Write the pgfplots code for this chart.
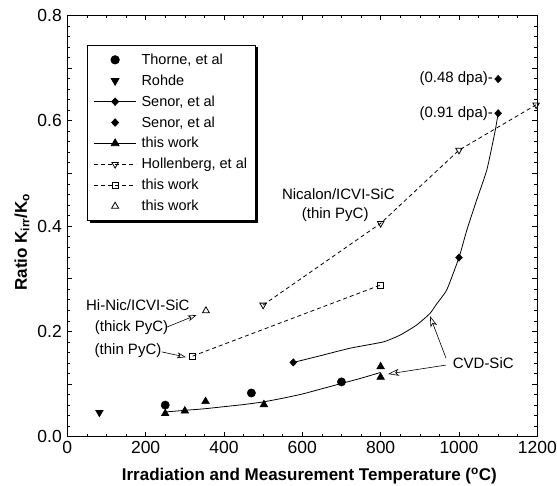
\documentclass[border=0pt]{standalone}
\usepackage{pgfplots}
\pgfplotsset{compat=1.18}
\usepackage{fontspec}
\setmainfont{Liberation Sans}
\usetikzlibrary{arrows.meta}
\newcommand{\fs}{\fontsize{15}{18}\selectfont}
\newcommand{\fl}{\fontsize{14.5}{17}\selectfont}
\begin{document}
\begin{tikzpicture}
\useasboundingbox (-67.3pt,-49.3pt) rectangle (489.7pt,436.7pt);
\begin{axis}[
  scale only axis, width=470pt, height=421.4pt,
  xmin=0, xmax=1200, ymin=0, ymax=0.8,
  clip mode=individual,
  xtick={0,200,400,600,800,1000,1200}, minor x tick num=3,
  ytick={0,0.2,0.4,0.6,0.8}, minor y tick num=9,
  extra y ticks={0.1,0.3,0.5,0.7}, extra y tick labels={},
  tick align=inside, major tick length=5pt, minor tick length=3pt,
  axis line style={line width=0.9pt},
  every tick/.style={black, line width=0.6pt},
  /pgf/number format/assume math mode=true,
  ticklabel style={font=\fontsize{17.5}{20}\selectfont},
  xticklabel style={yshift=-1pt, /pgf/number format/1000 sep={}},
  yticklabel style={xshift=-2pt, /pgf/number format/fixed, /pgf/number format/fixed zerofill, /pgf/number format/precision=1},
  xlabel={Irradiation and Measurement Temperature (\textsuperscript{o}C)},
  ylabel={Ratio K\textsubscript{irr}/K\textsubscript{o}},
  label style={font=\fontsize{17}{20}\selectfont\bfseries},
  xlabel style={at={(axis description cs:0.515,-0.093)}, anchor=center},
  ylabel style={at={(axis description cs:-0.0964,0.462)}, anchor=center},
  legend image code/.code={\draw[mark repeat=2,mark phase=2,#1] plot coordinates {(0pt,0pt)(21pt,0pt)(42pt,0pt)};},
  legend style={at={(axis description cs:0.0426,0.9295)}, anchor=north west,
    draw=black, line width=0.8pt, fill=white, font=\fl,
    inner xsep=6pt, inner ysep=4pt, column sep=3pt, row sep=0pt,
    nodes={inner xsep=2pt, inner ysep=2pt, minimum height=20.9pt, text depth=0.15em}},
  legend cell align=left,
]
% legend shadow
\fill[black] (axis description cs:0.0479,0.5060) rectangle (axis description cs:0.4058,0.9236);
% Thorne
\addplot[forget plot, only marks, mark=*, mark size=4.2pt] coordinates {(250,0.060)(470,0.083)(700,0.104)};
% Rohde
\addplot[forget plot, only marks, mark=triangle*, mark size=4.5pt, mark options={rotate=180}] coordinates {(82,0.046)};
% Senor curve
\addplot[forget plot, line width=0.8pt, mark=none, smooth, tension=0.3] coordinates {(577,0.141)(637,0.152)(722,0.168)(807,0.180)(850,0.193)(892,0.212)(926,0.234)(943,0.252)(969,0.279)(1000,0.340)(1020,0.392)(1045,0.449)(1071,0.506)(1092,0.579)(1100,0.614)};
% Senor diamonds
\addplot[forget plot, only marks, mark=diamond*, mark size=3.7pt, mark options={xscale=1.25}] coordinates {(577,0.141)(1000,0.340)(1100,0.614)(1100,0.679)};
% this work fit
\addplot[forget plot, line width=0.8pt, mark=none, smooth, tension=0.3] coordinates {(250,0.047)(300,0.050)(350,0.053)(400,0.057)(450,0.061)(500,0.066)(550,0.073)(600,0.081)(650,0.091)(700,0.101)(750,0.111)(800,0.122)};
% this work triangles
\addplot[forget plot, only marks, mark=triangle*, mark size=4.5pt] coordinates {(250,0.044)(300,0.049)(353,0.067)(502,0.061)(800,0.133)(800,0.113)};
% Hollenberg
\addplot[forget plot, line width=0.8pt, dash pattern=on 4pt off 3pt, mark=triangle, mark size=3.8pt, mark options={solid, rotate=180, fill=white}] coordinates {(500,0.250)(800,0.405)(1000,0.544)(1197,0.630)};
% this work squares
\addplot[forget plot, line width=0.8pt, dash pattern=on 4pt off 3pt, mark=square, mark size=3pt, mark options={solid, fill=white}] coordinates {(320,0.153)(800,0.288)};
% open triangle
\addplot[forget plot, only marks, mark=triangle, mark size=4pt, mark options={line width=0.8pt}] coordinates {(354,0.239)};

% legend
\addlegendimage{only marks, mark=*, mark size=4.2pt, black}
\addlegendentry{Thorne, et al}
\addlegendimage{only marks, mark=triangle*, mark size=4.5pt, mark options={rotate=180}, black}
\addlegendentry{Rohde}
\addlegendimage{line width=0.8pt, mark=diamond*, mark size=3.7pt, mark options={xscale=1.25}, black}
\addlegendentry{Senor, et al}
\addlegendimage{only marks, mark=diamond*, mark size=3.7pt, mark options={xscale=1.25}, black}
\addlegendentry{Senor, et al}
\addlegendimage{line width=0.8pt, mark=triangle*, mark size=4.5pt, black}
\addlegendentry{this work}
\addlegendimage{line width=0.8pt, dash pattern=on 4pt off 3pt, mark=triangle, mark size=3.8pt, mark options={solid, rotate=180, fill=white}, black}
\addlegendentry{Hollenberg, et al}
\addlegendimage{line width=0.8pt, dash pattern=on 4pt off 3pt, mark=square, mark size=3pt, mark options={solid, fill=white}, black}
\addlegendentry{this work}
\addlegendimage{only marks, line width=0.8pt, mark=triangle, mark size=4pt, black}
\addlegendentry{this work}

% annotations
\node[font=\fs] at (axis cs:180,0.250) {Hi-Nic/ICVI-SiC};
\node[font=\fs] at (axis cs:164,0.208) {(thick PyC)};
\node[font=\fs] at (axis cs:155,0.163) {(thin PyC)};
\draw[line width=0.6pt, -{Stealth[open, length=9pt, width=6pt, inset=2.5pt]}] (axis cs:254,0.208) -- (axis cs:330,0.231);
\draw[line width=0.6pt, -{Stealth[open, length=9pt, width=6pt, inset=2.5pt]}] (axis cs:241,0.161) -- (axis cs:303,0.151);
\node[font=\fs] at (axis cs:692,0.461) {Nicalon/ICVI-SiC};
\node[font=\fs] at (axis cs:684,0.421) {(thin PyC)};
\node[font=\fs] at (axis cs:1062,0.140) {CVD-SiC};
\draw[line width=0.6pt, -{Stealth[open, length=11pt, width=7pt, inset=3pt]}] (axis cs:967,0.149) -- (axis cs:926,0.229);
\draw[line width=0.6pt, -{Stealth[open, length=11pt, width=7pt, inset=3pt]}] (axis cs:967,0.136) -- (axis cs:819,0.119);
\node[font=\fs, anchor=east, inner sep=0pt] at ([xshift=-5pt]axis cs:1100,0.679) {(0.48 dpa)-};
\node[font=\fs, anchor=east, inner sep=0pt] at ([xshift=-5pt]axis cs:1100,0.614) {(0.91 dpa)-};
\end{axis}
\end{tikzpicture}
\end{document}
